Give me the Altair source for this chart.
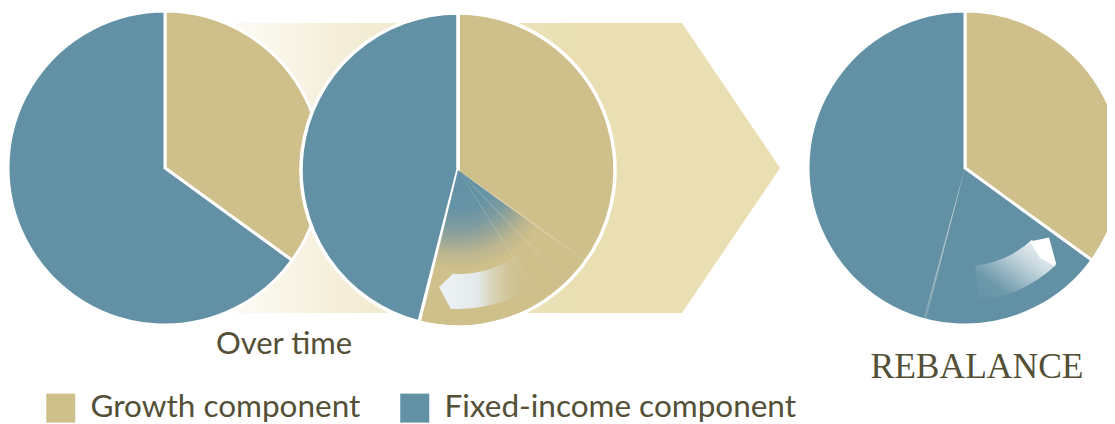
import math
import altair as alt
import pandas as pd

# ---------------- data ----------------
stages = ["Start", "Over time", "Rebalance"]
growth_pct = [35, 54, 35]
fixed_pct = [65, 46, 65]
components = ["Growth component", "Fixed-income component"]
caption_text = ["Over time", "REBALANCE"]

# ---------------- style ----------------
GROWTH = "#cebf8b"
FIXED = "#6291a5"
BAND = "#e9dfb2"
TEXT = "#545037"
SANS = "Lato, sans-serif"
SERIF = "Liberation Serif, serif"

W, H = 1099, 416
R = 157
centers = {"Start": (157, 160), "Over time": (450, 162), "Rebalance": (957, 160)}


def rad(pct):
    return pct / 100.0 * 2 * math.pi


def deg(d):
    return d * math.pi / 180.0


def sector_bbox(a1, a2, r_in, r_out):
    angs = [a1, a2] + [k * math.pi / 2 for k in range(0, 9) if a1 < k * math.pi / 2 < a2]
    pts = []
    for a in angs:
        for r in (r_in, r_out):
            pts.append((r * math.sin(a), -r * math.cos(a)))
    xs = [p[0] for p in pts]
    ys = [p[1] for p in pts]
    return min(xs), max(xs), min(ys), max(ys)


rows = []
for s, g, f in zip(stages, growth_pct, fixed_pct):
    rows.append(dict(stage=s, component=components[0], t1=0.0, t2=rad(g)))
    rows.append(dict(stage=s, component=components[1], t1=rad(g), t2=rad(g + f)))
slices = pd.DataFrame(rows)

color = alt.Color(
    "component:N",
    scale=alt.Scale(domain=components, range=[GROWTH, FIXED]),
    legend=alt.Legend(
        title=None, orient="none", legendX=37, legendY=384, direction="horizontal",
        symbolType="square", symbolSize=841, symbolStrokeWidth=0, symbolOpacity=1,
        labelFont=SANS, labelFontSize=31.5, labelColor=TEXT, labelOffset=14,
        columnPadding=38, labelLimit=600, padding=0, symbolOffset=0,
    ),
)


def pie(stage, sw):
    cx, cy = centers[stage]
    return (
        alt.Chart(slices)
        .transform_filter(alt.datum.stage == stage)
        .mark_arc(radius=R, stroke="white", strokeWidth=sw)
        .encode(
            x=alt.value(cx), y=alt.value(cy),
            theta=alt.Theta("t1:Q", scale=None), theta2="t2:Q",
            color=color,
        )
    )


def sector(stage, a1, a2, fill, r_out, r_in=0, opacity=1):
    cx, cy = centers[stage]
    df = pd.DataFrame({"t1": [a1], "t2": [a2]})
    return (
        alt.Chart(df)
        .mark_arc(radius=r_out, radius2=r_in, fill=fill, opacity=opacity, strokeWidth=0)
        .encode(x=alt.value(cx), y=alt.value(cy),
                theta=alt.Theta("t1:Q", scale=None), theta2="t2:Q")
    )


one = pd.DataFrame({"k": [0]})

# ---------------- background arrow band ----------------
band_grad = alt.Gradient(
    gradient="linear", x1=0, y1=0, x2=1, y2=0,
    stops=[
        alt.GradientStop(offset=0.0, color="#ffffff"),
        alt.GradientStop(offset=0.09, color="#fcf9f1"),
        alt.GradientStop(offset=0.22, color="#f5efdb"),
        alt.GradientStop(offset=0.45, color="#eee6c4"),
        alt.GradientStop(offset=0.64, color=BAND),
        alt.GradientStop(offset=1.0, color=BAND),
    ],
)
band = alt.Chart(one).mark_point(
    shape="M-1,-0.5L0.662,-0.5L1,0L0.662,0.5L-1,0.5Z",
    size=580 ** 2, filled=True, fill=band_grad, opacity=1, strokeWidth=0,
).encode(x=alt.value(482), y=alt.value(160))

# ---------------- pie 2 gradient wedge ----------------
a1, a2 = rad(growth_pct[0]), rad(growth_pct[1]) - 0.012
xmin, xmax, ymin, ymax = sector_bbox(a1, a2, 0, R - 2)
w, h = xmax - xmin, ymax - ymin
side = max(w, h)
x0 = xmin - (side - w) / 2
y0 = ymin - (side - h) / 2
fx, fy = -x0 / side, -y0 / side
rr = R / side
wedge_grad = alt.Gradient(
    gradient="radial", x1=fx, y1=fy, r1=0, x2=fx, y2=fy, r2=rr,
    stops=[
        alt.GradientStop(offset=0.0, color=FIXED),
        alt.GradientStop(offset=0.25, color="#6693a5"),
        alt.GradientStop(offset=0.37, color="#7f9c9f"),
        alt.GradientStop(offset=0.46, color="#9ea995"),
        alt.GradientStop(offset=0.54, color="#bcb68f"),
        alt.GradientStop(offset=0.63, color=GROWTH),
        alt.GradientStop(offset=1.0, color=GROWTH),
    ],
)
wedge2 = sector("Over time", a1, a2, wedge_grad, R - 2)

ray_grad = alt.Gradient(
    gradient="linear", x1=0, y1=0, x2=1, y2=1,
    stops=[
        alt.GradientStop(offset=0.0, color="rgba(255,255,255,0.95)"),
        alt.GradientStop(offset=0.45, color="rgba(255,255,255,0.3)"),
        alt.GradientStop(offset=1.0, color="rgba(255,255,255,0.03)"),
    ],
)
rays = [
    sector("Over time", deg(125.0), deg(126.0), ray_grad, R - 2),
    sector("Over time", deg(135.8), deg(136.6), ray_grad, R - 2, opacity=0.6),
    sector("Over time", deg(147.2), deg(148.0), ray_grad, R - 2, opacity=0.5),
]

# curved arrow in pie 2 (head toward the fixed-income boundary)
arr2_grad = alt.Gradient(
    gradient="linear", x1=0, y1=0, x2=1, y2=0,
    stops=[
        alt.GradientStop(offset=0.0, color="#ebf0f4"),
        alt.GradientStop(offset=0.28, color="#e4e9ea"),
        alt.GradientStop(offset=0.8, color="rgba(206,191,139,0)"),
        alt.GradientStop(offset=1.0, color="rgba(206,191,139,0)"),
    ],
)
arrow2 = sector("Over time", deg(140), deg(183), arr2_grad, 139, 104)
head2 = alt.Chart(one).mark_point(
    shape="M0.45,-0.85L0.33,-0.85L-0.35,-0.2L0.235,0.9L0.34,0.9Z",
    size=1600, filled=True, fill="#ebf0f4", opacity=1, strokeWidth=0,
).encode(x=alt.value(438), y=alt.value(283))

# ---------------- pie 3 overlays ----------------
l1, l2 = rad(growth_pct[1]), rad(growth_pct[1]) + deg(1.0)
line_grad = alt.Gradient(
    gradient="linear", x1=0, y1=0, x2=0, y2=1,
    stops=[
        alt.GradientStop(offset=0.0, color="rgba(238,236,228,1)"),
        alt.GradientStop(offset=0.5, color="rgba(220,226,228,0.6)"),
        alt.GradientStop(offset=1.0, color="rgba(255,255,255,0.15)"),
    ],
)
line3 = sector("Rebalance", l1, l2, line_grad, R - 1)

arr3_grad = alt.Gradient(
    gradient="linear", x1=0, y1=1, x2=1, y2=0,
    stops=[
        alt.GradientStop(offset=0.0, color="rgba(255,255,255,0)"),
        alt.GradientStop(offset=0.25, color="rgba(255,255,255,0.08)"),
        alt.GradientStop(offset=0.65, color="rgba(255,255,255,0.65)"),
        alt.GradientStop(offset=1.0, color="rgba(255,255,255,1)"),
    ],
)
arrow3 = sector("Rebalance", deg(137), deg(174), arr3_grad, 133, 98)
head3 = alt.Chart(one).mark_point(
    shape="M-0.75,-0.525L0.2,-0.725L0.55,0.55L0.5,0.7L-0.25,0.3Z",
    size=1600, filled=True, fill="#ffffff", opacity=1, strokeWidth=0,
).encode(x=alt.value(1037), y=alt.value(244))

# ---------------- captions ----------------
cap1 = alt.Chart(pd.DataFrame({"t": [caption_text[0]]})).mark_text(
    font=SANS, fontSize=31, color=TEXT, align="center", baseline="alphabetic",
).encode(x=alt.value(276), y=alt.value(346), text="t:N")
cap2 = alt.Chart(pd.DataFrame({"t": [caption_text[1]]})).mark_text(
    font=SERIF, fontSize=35.5, color=TEXT, align="center", baseline="alphabetic",
).encode(x=alt.value(969), y=alt.value(370), text="t:N")

chart = alt.layer(
    band,
    pie("Start", 3),
    pie("Over time", 3.5),
    wedge2,
    *rays,
    arrow2,
    head2,
    pie("Rebalance", 3),
    line3,
    arrow3,
    head3,
    cap1,
    cap2,
).properties(
    width=W, height=H, padding=0, autosize="none", background="white",
).configure_view(stroke=None)

chart.save("out.html", embed_options={"renderer": "svg", "actions": False})
